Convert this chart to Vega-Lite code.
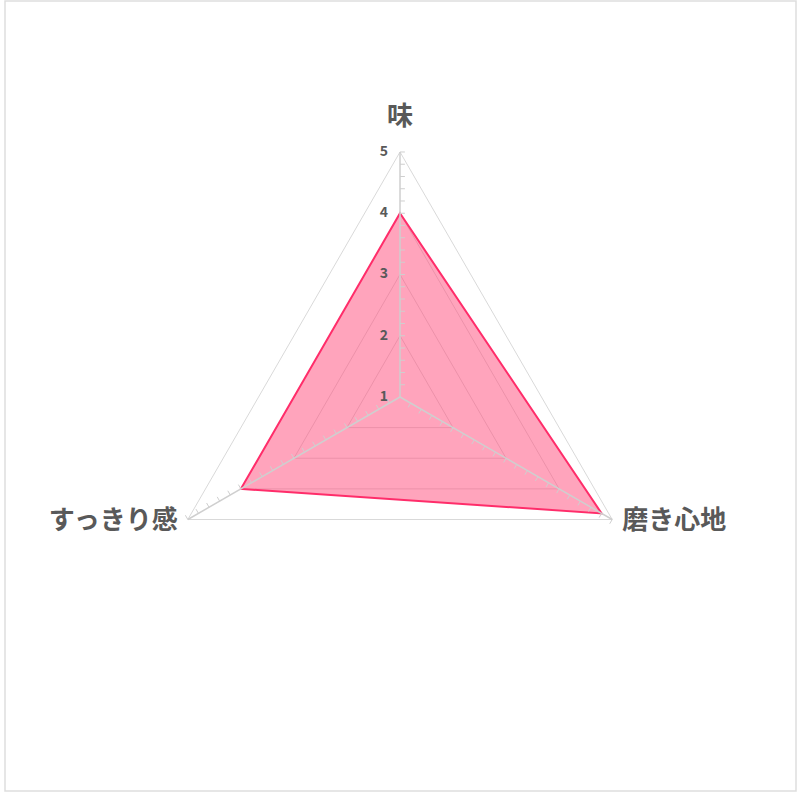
{
  "$schema": "https://vega.github.io/schema/vega-lite/v6.json",
  "description": "Radar chart: 味 / 磨き心地 / すっきり感",
  "width": 791,
  "height": 790,
  "padding": {"left": 5, "top": 1, "right": 4, "bottom": 8},
  "autosize": "none",
  "background": "white",
  "config": {"view": {"stroke": "#dedede", "strokeWidth": 1.5}},
  "datasets": {
    "scores": [
      {"axis": "味", "i": 0, "value": 4},
      {"axis": "磨き心地", "i": 1, "value": 4.8},
      {"axis": "すっきり感", "i": 2, "value": 4}
    ],
    "grid": [
      {"level": 2, "i": [0, 1, 2]},
      {"level": 3, "i": [0, 1, 2]},
      {"level": 4, "i": [0, 1, 2]},
      {"level": 5, "i": [0, 1, 2]}
    ],
    "ticks": [
      {"i": 0, "t": [1.2, 1.4, 1.6, 1.8, 2, 2.2, 2.4, 2.6, 2.8, 3, 3.2, 3.4, 3.6, 3.8, 4, 4.2, 4.4, 4.6, 4.8, 5]},
      {"i": 1, "t": [1.2, 1.4, 1.6, 1.8, 2, 2.2, 2.4, 2.6, 2.8, 3, 3.2, 3.4, 3.6, 3.8, 4, 4.2, 4.4, 4.6, 4.8, 5]},
      {"i": 2, "t": [1.2, 1.4, 1.6, 1.8, 2, 2.2, 2.4, 2.6, 2.8, 3, 3.2, 3.4, 3.6, 3.8, 4, 4.2, 4.4, 4.6, 4.8, 5]}
    ],
    "scaleLabels": [
      {"label": "1", "v": 1},
      {"label": "2", "v": 2},
      {"label": "3", "v": 3},
      {"label": "4", "v": 4},
      {"label": "5", "v": 5}
    ]
  },
  "layer": [
    {
      "data": {"name": "grid"},
      "transform": [
        {"flatten": ["i"]},
        {"calculate": "PI / 2 - datum.i * 2 * PI / 3", "as": "theta"},
        {"calculate": "(datum.level - 1) * cos(datum.theta)", "as": "gx"},
        {"calculate": "(datum.level - 1) * sin(datum.theta)", "as": "gy"}
      ],
      "mark": {"type": "line", "interpolate": "linear-closed", "stroke": "#d9d9d9", "strokeWidth": 1},
      "encoding": {
        "x": {"field": "gx", "type": "quantitative", "scale": {"domain": [-6.449, 6.465], "nice": false, "zero": false}, "axis": null},
        "y": {"field": "gy", "type": "quantitative", "scale": {"domain": [-6.4327, 6.4653], "nice": false, "zero": false}, "axis": null},
        "detail": {"field": "level", "type": "nominal"},
        "order": {"field": "i", "type": "quantitative"}
      }
    },
    {
      "data": {"name": "scores"},
      "transform": [
        {"calculate": "PI / 2 - datum.i * 2 * PI / 3", "as": "theta"},
        {"calculate": "(datum.value - 1) * cos(datum.theta)", "as": "px"},
        {"calculate": "(datum.value - 1) * sin(datum.theta)", "as": "py"}
      ],
      "mark": {"type": "line", "interpolate": "linear-closed", "fill": "#ff4a7a", "fillOpacity": 0.5, "stroke": "#ff2d6a", "strokeWidth": 2},
      "encoding": {
        "x": {"field": "px", "type": "quantitative"},
        "y": {"field": "py", "type": "quantitative"},
        "order": {"field": "i", "type": "quantitative"}
      }
    },
    {
      "data": {"name": "scores"},
      "transform": [
        {"calculate": "PI / 2 - datum.i * 2 * PI / 3", "as": "theta"},
        {"calculate": "0", "as": "cx"},
        {"calculate": "4 * cos(datum.theta)", "as": "ex"},
        {"calculate": "4 * sin(datum.theta)", "as": "ey"}
      ],
      "mark": {"type": "rule", "stroke": "#cfcfcf", "strokeWidth": 1.5},
      "encoding": {
        "x": {"field": "cx", "type": "quantitative"},
        "y": {"field": "cx", "type": "quantitative"},
        "x2": {"field": "ex"},
        "y2": {"field": "ey"}
      }
    },
    {
      "data": {"name": "ticks"},
      "transform": [
        {"flatten": ["t"]},
        {"calculate": "PI / 2 - datum.i * 2 * PI / 3", "as": "theta"},
        {"calculate": "(datum.t - 1) * cos(datum.theta)", "as": "ax"},
        {"calculate": "(datum.t - 1) * sin(datum.theta)", "as": "ay"},
        {"calculate": "datum.ax + 0.08 * sin(datum.theta)", "as": "bx"},
        {"calculate": "datum.ay - 0.08 * cos(datum.theta)", "as": "by"}
      ],
      "mark": {"type": "rule", "stroke": "#cfcfcf", "strokeWidth": 1},
      "encoding": {
        "x": {"field": "ax", "type": "quantitative"},
        "y": {"field": "ay", "type": "quantitative"},
        "x2": {"field": "bx"},
        "y2": {"field": "by"}
      }
    },
    {
      "data": {"name": "scaleLabels"},
      "transform": [
        {"calculate": "0", "as": "lx"},
        {"calculate": "datum.v - 1", "as": "ly"}
      ],
      "mark": {"type": "text", "align": "right", "baseline": "middle", "dx": -12, "font": "Noto Sans CJK JP", "fontWeight": "bold", "fontSize": 14, "color": "#595959"},
      "encoding": {
        "x": {"field": "lx", "type": "quantitative"},
        "y": {"field": "ly", "type": "quantitative"},
        "text": {"field": "label"}
      }
    },
    {
      "data": {"name": "scores"},
      "transform": [
        {"filter": "datum.i == 0"},
        {"calculate": "PI / 2 - datum.i * 2 * PI / 3", "as": "theta"},
        {"calculate": "4 * cos(datum.theta)", "as": "tx"},
        {"calculate": "4 * sin(datum.theta)", "as": "ty"}
      ],
      "mark": {"type": "text", "align": "center", "baseline": "middle", "dy": -35, "font": "Noto Sans CJK JP", "fontWeight": "bold", "fontSize": 26, "color": "#595959"},
      "encoding": {
        "x": {"field": "tx", "type": "quantitative"},
        "y": {"field": "ty", "type": "quantitative"},
        "text": {"field": "axis"}
      }
    },
    {
      "data": {"name": "scores"},
      "transform": [
        {"filter": "datum.i == 1"},
        {"calculate": "PI / 2 - datum.i * 2 * PI / 3", "as": "theta"},
        {"calculate": "4 * cos(datum.theta)", "as": "tx"},
        {"calculate": "4 * sin(datum.theta)", "as": "ty"}
      ],
      "mark": {"type": "text", "align": "left", "baseline": "middle", "dx": 10, "dy": 2, "font": "Noto Sans CJK JP", "fontWeight": "bold", "fontSize": 26, "color": "#595959"},
      "encoding": {
        "x": {"field": "tx", "type": "quantitative"},
        "y": {"field": "ty", "type": "quantitative"},
        "text": {"field": "axis"}
      }
    },
    {
      "data": {"name": "scores"},
      "transform": [
        {"filter": "datum.i == 2"},
        {"calculate": "PI / 2 - datum.i * 2 * PI / 3", "as": "theta"},
        {"calculate": "4 * cos(datum.theta)", "as": "tx"},
        {"calculate": "4 * sin(datum.theta)", "as": "ty"}
      ],
      "mark": {"type": "text", "align": "right", "baseline": "middle", "dx": -10, "dy": 2, "font": "Noto Sans CJK JP", "fontWeight": "bold", "fontSize": 26, "color": "#595959"},
      "encoding": {
        "x": {"field": "tx", "type": "quantitative"},
        "y": {"field": "ty", "type": "quantitative"},
        "text": {"field": "axis"}
      }
    }
  ]
}
